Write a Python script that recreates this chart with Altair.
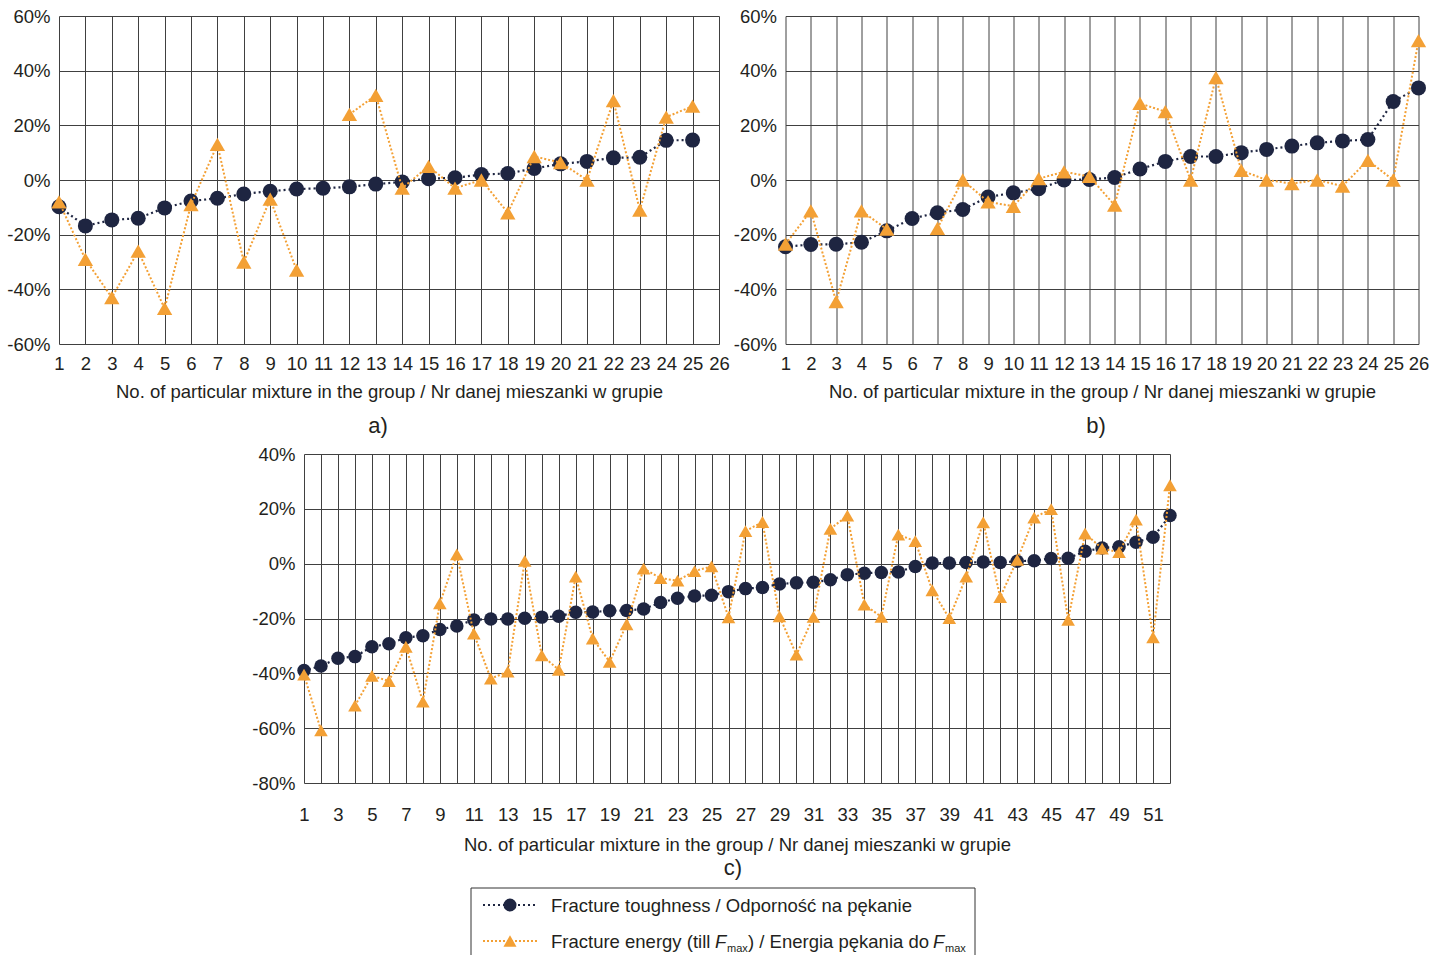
import altair as alt
import pandas as pd

X_TITLE = "No. of particular mixture in the group / Nr danej mieszanki w grupie"
NAVY = "#1e2541"
ORANGE = "#f3a035"
FONT = "Liberation Sans"
INK = "#231f20"
GRID = "#404040"

# Group a) – relative change [%] for each mixture (no. 1..25, axis runs to 26)
a_toughness = [-9.8, -16.8, -14.6, -14.0, -10.2, -7.7, -6.7, -5.1, -4.1, -3.3,
               -3.0, -2.5, -1.5, -0.7, 0.5, 0.8, 2.0, 2.4, 4.2, 5.9,
               6.8, 8.1, 8.3, 14.5, 14.6]
a_energy = [-8.0, -29.0, -43.0, -26.0, -47.0, -9.0, 13.0, -30.0, -7.0, -33.0,
            None, 24.0, 31.0, -3.0, 5.0, -3.0, 0.0, -12.0, 8.6, 6.4,
            0.0, 29.0, -11.0, 23.0, 27.0]

# Group b) – mixtures 1..26
b_toughness = [-24.4, -23.6, -23.5, -22.8, -18.6, -14.1, -12.0, -10.8, -6.2, -4.7,
               -3.2, 0.0, 0.2, 0.9, 4.0, 6.8, 8.6, 8.6, 10.0, 11.2,
               12.4, 13.6, 14.3, 14.8, 28.7, 33.7]
b_energy = [-23.5, -11.3, -44.5, -11.3, -18.0, None, -17.7, 0.0, -8.0, -9.6,
            0.5, 3.0, 1.3, -9.2, 28.0, 25.0, 0.0, 37.5, 3.5, 0.0,
            -1.3, 0.0, -2.2, 7.2, 0.0, 51.0]

# Group c) – mixtures 1..52
c_toughness = [-39.0, -37.3, -34.5, -33.9, -30.3, -29.2, -27.0, -26.3, -24.0, -22.7,
               -20.5, -20.2, -20.2, -19.9, -19.5, -19.2, -17.7, -17.6, -17.2, -17.1,
               -16.5, -14.2, -12.6, -11.8, -11.5, -10.2, -9.1, -8.7, -7.4, -7.0,
               -6.8, -5.9, -4.0, -3.5, -3.2, -3.0, -1.0, 0.2, 0.2, 0.4,
               0.6, 0.4, 0.9, 1.1, 1.9, 2.0, 4.5, 5.7, 6.2, 7.8,
               9.6, 17.6]
c_energy = [-40.5, -60.8, None, -51.8, -40.9, -42.8, -30.3, -50.3, -14.5, 3.4,
            -25.5, -41.9, -39.4, 1.0, -33.4, -38.7, -4.7, -27.3, -35.8, -22.1,
            -1.8, -5.3, -6.2, -2.7, -1.0, -19.6, 11.9, 15.2, -19.2, -33.2,
            -19.4, 12.7, 17.5, -14.9, -19.4, 10.6, 8.2, -9.7, -19.9, -4.7,
            15.1, -12.2, 1.4, 16.8, 19.9, -20.5, 11.0, 5.5, 4.2, 16.1,
            -26.9, 28.6]

a_y_ticks = [-60, -40, -20, 0, 20, 40, 60]
b_y_ticks = [-60, -40, -20, 0, 20, 40, 60]
c_y_ticks = [-80, -60, -40, -20, 0, 20, 40]

a_x_max = 26
b_x_max = 26
c_x_max = 52


def build_table(tough, energy):
    """One row per mixture; 'seg' splits the energy series where a value is missing."""
    seg, rows = 0, []
    for i, (t, e) in enumerate(zip(tough, energy), start=1):
        if e is None:
            seg += 1
        rows.append({"no": i, "toughness": t, "energy": e, "seg": seg})
    return pd.DataFrame(rows)


def panel(tough, energy, x_max, y_ticks, width, height, odd_labels, circle_size,
          tri_size, label_pad, title_pad, title, title_dx, title_offset):
    df = build_table(tough, energy)
    label_expr = "datum.label"
    if odd_labels:
        label_expr = f"datum.value % 2 == 1 && datum.value < {x_max} ? datum.label : ''"
    x = alt.X(
        "no:Q",
        scale=alt.Scale(domain=[1, x_max], nice=False, zero=False),
        axis=alt.Axis(values=list(range(1, x_max + 1)), labelExpr=label_expr,
                      title=X_TITLE, labelPadding=label_pad, titlePadding=title_pad),
    )

    def y(field):
        return alt.Y(
            f"{field}:Q",
            scale=alt.Scale(domain=[y_ticks[0], y_ticks[-1]], nice=False, zero=False),
            axis=alt.Axis(values=y_ticks, labelExpr="datum.value + '%'", title=None,
                          labelPadding=9),
        )

    base = alt.Chart(df)
    valid = base.transform_filter("isValid(datum.energy)")
    tough_line = base.mark_line(color=NAVY, strokeWidth=2.2, strokeDash=[2, 3]).encode(
        x=x, y=y("toughness"))
    tough_pts = base.mark_point(shape="circle", filled=True, color=NAVY, opacity=1,
                                size=circle_size).encode(x=x, y=y("toughness"))
    energy_line = valid.mark_line(color=ORANGE, strokeWidth=2, strokeDash=[2, 2]).encode(
        x=x, y=y("energy"), detail="seg:N")
    energy_pts = valid.mark_point(shape="triangle-up", filled=True, color=ORANGE, opacity=1,
                                  size=tri_size).encode(x=x, y=y("energy"))
    return alt.layer(tough_line, tough_pts, energy_line, energy_pts).properties(
        width=width, height=height,
        title=alt.TitleParams(text=title, orient="bottom", anchor="middle", frame="group",
                              fontSize=22, fontWeight="normal", font=FONT, color=INK,
                              offset=title_offset, dx=title_dx),
    )


def spacer(w):
    return alt.Chart(pd.DataFrame({"v": [0]})).mark_point(size=0, opacity=0).encode(
        x=alt.value(0), y=alt.value(0)).properties(width=w, height=1)


def legend_chart():
    one = alt.Chart(pd.DataFrame({"v": [0]}))
    box = one.mark_rect(fill="white", stroke="#333333", strokeWidth=1).encode(
        x=alt.value(0), x2=alt.value(504), y=alt.value(0), y2=alt.value(95))
    layers = [box]
    for yy, col, shape, dash in [(17, NAVY, "circle", [2, 3]), (53, ORANGE, "triangle-up", [2, 2])]:
        layers.append(one.mark_rule(color=col, strokeWidth=2, strokeDash=dash).encode(
            x=alt.value(12), x2=alt.value(66), y=alt.value(yy)))
        layers.append(one.mark_point(shape=shape, filled=True, color=col, opacity=1,
                                     size=170).encode(x=alt.value(39), y=alt.value(yy)))
    txt = dict(align="left", baseline="middle", font=FONT, color=INK, fontSize=18.5)
    sub = dict(align="left", baseline="middle", font=FONT, color=INK, fontSize=11)
    pieces = [
        (80, 18, "Fracture toughness / Odporność na pękanie", txt),
        (80, 54, "Fracture energy (till ", txt),
        (244, 54, "F", dict(txt, fontStyle="italic")),
        (256, 61, "max", sub),
        (277, 54, ") / Energia pękania do ", txt),
        (462, 54, "F", dict(txt, fontStyle="italic")),
        (474, 61, "max", sub),
    ]
    for px, py, s, style in pieces:
        layers.append(one.mark_text(text=s, **style).encode(x=alt.value(px), y=alt.value(py)))
    return alt.layer(*layers).properties(width=504, height=95)


pa = panel(a_toughness, a_energy, a_x_max, a_y_ticks, 660, 328, False, 225, 235, 10, 10,
           "a)", -11, 15)
pb = panel(b_toughness, b_energy, b_x_max, b_y_ticks, 633, 328, False, 225, 235, 10, 10,
           "b)", -6, 15)
pc = panel(c_toughness, c_energy, c_x_max, c_y_ticks, 866, 329, True, 182, 185, 22, 12,
           "c)", -4, 4)

row1 = alt.hconcat(pa, pb, spacing=2.5)
row2 = alt.hconcat(spacer(192), pc, spacing=0)
row3 = alt.hconcat(spacer(410.5), legend_chart(), spacing=0)

chart = alt.vconcat(row1, row2, row3, spacing=8).properties(
    padding={"left": 6, "top": 7, "right": 5, "bottom": 5}
).configure_view(stroke=None).configure_axis(
    grid=True, gridColor=GRID, gridWidth=1, gridOpacity=1,
    domain=False, ticks=False, tickSize=0,
    labelFont=FONT, labelFontSize=18.5, labelColor=INK,
    labelFlush=False, labelOverlap=False,
    titleFont=FONT, titleFontSize=18.5, titleFontWeight="normal", titleColor=INK,
)

chart.save("out.html", embed_options={"renderer": "svg", "actions": False})
